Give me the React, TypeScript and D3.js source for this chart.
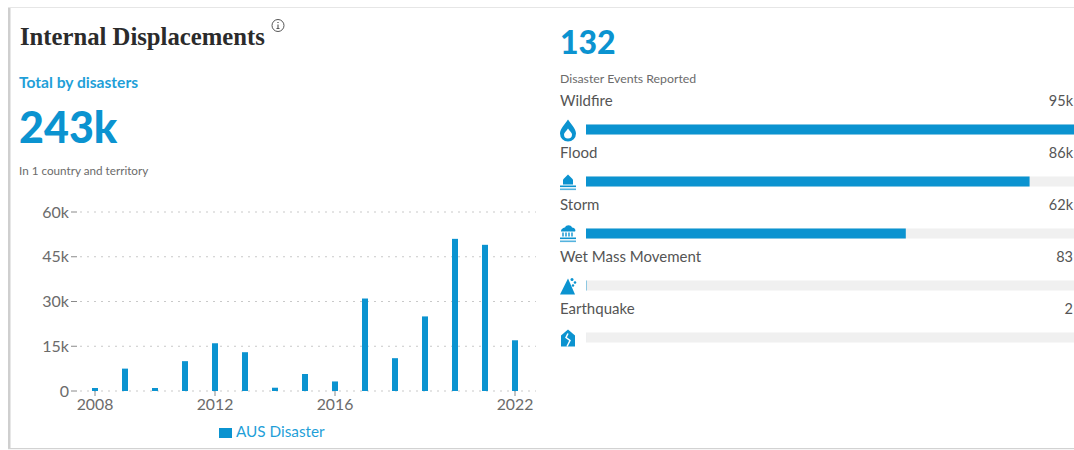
import React from "react";
import * as d3 from "d3";

const years = [2008, 2009, 2010, 2011, 2012, 2013, 2014, 2015, 2016, 2017, 2018, 2019, 2020, 2021, 2022];
const displacements = [1000, 7500, 1000, 10000, 16000, 13000, 1100, 5700, 3200, 31000, 11000, 25000, 51000, 49000, 17000];
const yTicks = [0, 15000, 30000, 45000, 60000];
const yTickLabels = ["0", "15k", "30k", "45k", "60k"];
const xTicks = [2008, 2012, 2016, 2022];

const hazards = ["Wildfire", "Flood", "Storm", "Wet Mass Movement", "Earthquake"];
const hazardValues = [95000, 86000, 62000, 83, 2];
const hazardLabels = ["95k", "86k", "62k", "83", "2"];

const BLUE = "#0b93d0";
const LIGHT_BLUE = "#1f9fd8";
const GREY = "#6b6b6b";
const SANS = "Lato, 'Open Sans', sans-serif";
const SERIF = "'Liberation Serif', 'DejaVu Serif', serif";

// Small glyphs, one per hazard, centred on the origin.
function HazardIcon({ name }: { name: string }) {
  if (name === "Wildfire") {
    return (
      <path
        fillRule="evenodd"
        fill={BLUE}
        d="M0,-11 C3,-6 8,-2 8,3 A8,8 0 0 1 -8,3 C-8,-2 -3,-6 0,-11 Z M0,-2 C-2,1 -4,2.5 -4,4 A4,4 0 0 0 4,4 C4,2.5 2,1 0,-2 Z"
      />
    );
  }
  if (name === "Flood") {
    return (
      <g fill={BLUE}>
        <path d="M-5,2 V-3 L0,-8 L5,-3 V2 Z" />
        <rect x={-8} y={3} width={16} height={1.6} />
        <rect x={-8} y={6} width={16} height={1.6} opacity={0.7} />
      </g>
    );
  }
  if (name === "Storm") {
    return (
      <g fill={BLUE}>
        <path d="M-7,-3 C-7,-6 -4,-7 -3,-7 C-2,-10 3,-10 4,-7 C7,-7 8,-4 7,-3 Z" />
        <path d="M-5,-2 V2 M-2,-2 V2 M1,-2 V2 M4,-2 V2" stroke={BLUE} strokeWidth={1.4} fill="none" />
        <rect x={-8} y={3} width={16} height={1.6} />
        <rect x={-8} y={6} width={16} height={1.6} opacity={0.7} />
      </g>
    );
  }
  if (name === "Wet Mass Movement") {
    return (
      <g fill={BLUE}>
        <path d="M-8,8 L0,-8 L7,8 Z" />
        <circle cx={4} cy={-7} r={1.5} />
        <circle cx={7} cy={-4} r={1.3} />
        <circle cx={5} cy={-1} r={1.2} />
      </g>
    );
  }
  return (
    <g>
      <path fill={BLUE} d="M-7,8 V-3 L0,-9 L7,-3 V8 Z" />
      <path fill="none" stroke="#fff" strokeWidth={1.5} d="M0,-5 L-2,-1 L2,2 L-1,8" />
    </g>
  );
}

export default function App() {
  const x = d3.scaleLinear().domain([2008, 2022]).range([95, 515]);
  const y = d3.scaleLinear().domain([0, 60000]).range([391, 212]);
  const barScale = d3.scaleLinear().domain([0, 95000]).range([0, 490]);
  const rowY = d3.scaleLinear().domain([0, 4]).range([129.5, 337.5]);
  const barWidth = 6;

  return (
    <svg
      width={1074}
      height={450}
      viewBox="0 0 1074 450"
      style={{ position: "absolute", left: 0, top: 0, display: "block", background: "#fff" }}
      fontFamily={SANS}
    >
      {/* Card edges */}
      <rect x={8} y={7} width={2.5} height={442} fill="#cfcfcf" />
      <rect x={8} y={7} width={1066} height={1} fill="#e6e6e6" />
      <rect x={8} y={448} width={1066} height={1.2} fill="#d2d2d2" />

      {/* Heading and totals */}
      <text x={20} y={45} fontFamily={SERIF} fontWeight={700} fontSize={24.7} fill="#2b2b2b">
        Internal Displacements
      </text>
      <g transform="translate(278,25.5)" stroke="#555" fill="none">
        <circle r={6} strokeWidth={1} />
        <path d="M0,-1 V3 M-1.5,3 H1.5" strokeWidth={1.1} />
        <path d="M0,-3.6 V-2.4" strokeWidth={1.3} />
      </g>
      <text x={19} y={88} fontWeight={700} fontSize={15.6} fill={LIGHT_BLUE}>
        Total by disasters
      </text>
      <text x={19} y={143} fontWeight={900} fontSize={43} fill={BLUE}>
        243k
      </text>
      <text x={19} y={175} fontSize={11.7} fill={GREY}>
        In 1 country and territory
      </text>

      {/* Yearly displacement chart */}
      {yTicks.map((t, i) => (
        <g key={t}>
          <line
            x1={80}
            x2={536}
            y1={y(t)}
            y2={y(t)}
            stroke="#c9c9c9"
            strokeWidth={1}
            strokeDasharray="2 5"
          />
          <line x1={71} x2={77} y1={y(t)} y2={y(t)} stroke="#8a8a8a" strokeWidth={1} />
          <text x={69} y={y(t)} dy="0.35em" textAnchor="end" fontSize={16} fill={GREY}>
            {yTickLabels[i]}
          </text>
        </g>
      ))}
      {xTicks.map((t) => (
        <g key={t}>
          <line x1={x(t)} x2={x(t)} y1={391} y2={396} stroke="#8a8a8a" strokeWidth={1} />
          <text x={x(t)} y={410} textAnchor="middle" fontSize={15.8} fill={GREY}>
            {t}
          </text>
        </g>
      ))}
      {years.map((yr, i) => (
        <rect
          key={yr}
          x={x(yr) - barWidth / 2}
          y={y(displacements[i])}
          width={barWidth}
          height={y(0) - y(displacements[i])}
          fill={BLUE}
        />
      ))}
      <rect x={219} y={428} width={13} height={10} fill={BLUE} />
      <text x={236} y={437} fontSize={15.3} fill={LIGHT_BLUE}>
        AUS Disaster
      </text>

      {/* Event count and hazard breakdown */}
      <text x={560} y={54} fontWeight={900} fontSize={32} fill={BLUE}>
        132
      </text>
      <text x={560} y={83} fontSize={12.3} fill={GREY}>
        Disaster Events Reported
      </text>
      {hazards.map((h, i) => {
        const cy = rowY(i);
        return (
          <g key={h}>
            <text x={560} y={cy - 24} fontSize={15} fill="#555">
              {h}
            </text>
            <text x={1073} y={cy - 24} textAnchor="end" fontSize={14.5} fill="#555">
              {hazardLabels[i]}
            </text>
            <rect x={586} y={cy - 5} width={barScale(95000)} height={10} fill="#f0f0f0" />
            <rect x={586} y={cy - 5} width={barScale(hazardValues[i])} height={10} fill={BLUE} />
            <g transform={`translate(568,${cy + 1})`}>
              <HazardIcon name={h} />
            </g>
          </g>
        );
      })}
    </svg>
  );
}
